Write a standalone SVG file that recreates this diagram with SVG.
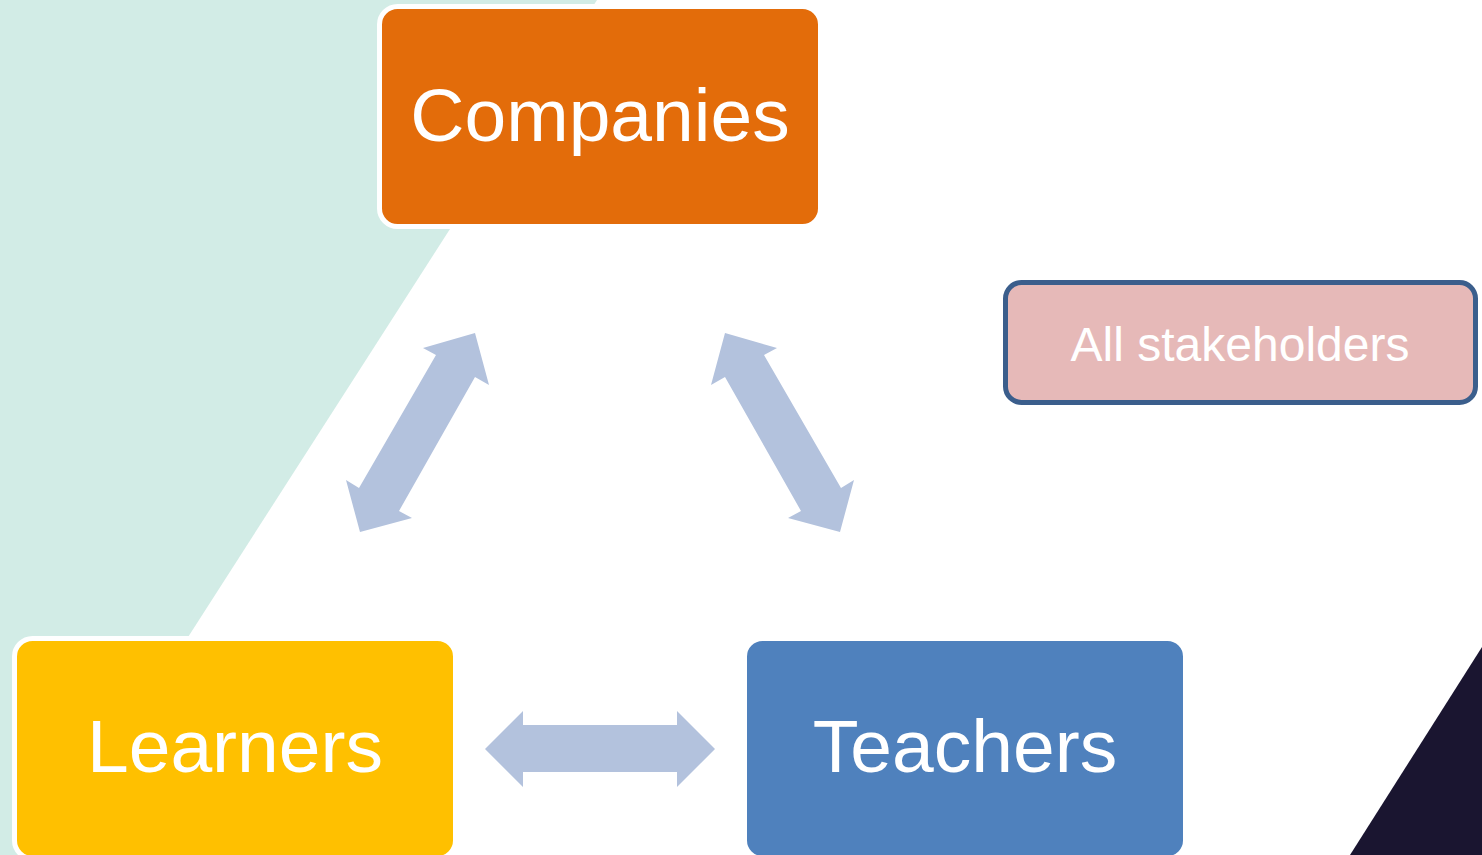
<svg xmlns="http://www.w3.org/2000/svg" width="1482" height="855" viewBox="0 0 1482 855">
<style>
.box{stroke:#FFFFFF;stroke-width:5}
.lbl{font-family:"Liberation Sans",Arial,sans-serif;fill:#FFFFFF;text-anchor:middle}
.big{font-size:75px}
.arrow{fill:#B3C2DD}
</style>
<rect x="0" y="0" width="1482" height="855" fill="#FFFFFF"/>
<polygon points="0,0 597,0 0,930" fill="#D2ECE6"/>
<polygon points="1482,647 1482,855 1350,855" fill="#1A1530"/>
<g id="connectors">
<polygon class="arrow" points="475,333 489,385 475,377 399,511 412,518 360,532 346,480 359,488 436,355 423,348"/>
<polygon class="arrow" points="725,333 711,385 725,377 801,511 788,518 840,532 854,480 841,488 764,355 777,348"/>
<polygon class="arrow" points="485,749 523,711 523,725 677,725 677,711 715,749 677,787 677,772 523,772 523,787"/>
</g>
<g id="companies">
<rect class="box" x="379.5" y="6.5" width="441" height="220" rx="18" fill="#E36C0A"/>
<text class="lbl big" x="600" y="141">Companies</text>
</g>
<g id="learners">
<rect class="box" x="14.5" y="638.5" width="441" height="220" rx="18" fill="#FFC000"/>
<text class="lbl big" x="235" y="772">Learners</text>
</g>
<g id="teachers">
<rect class="box" x="744.5" y="638.5" width="441" height="220" rx="18" fill="#4F81BD"/>
<text class="lbl big" x="965" y="772">Teachers</text>
</g>
<g id="stakeholders">
<rect x="1005.5" y="282.5" width="470" height="120" rx="16" fill="#E6B9B8" stroke="#3B5E8C" stroke-width="5"/>
<text class="lbl" x="1240" y="361" font-size="48">All stakeholders</text>
</g>
</svg>
